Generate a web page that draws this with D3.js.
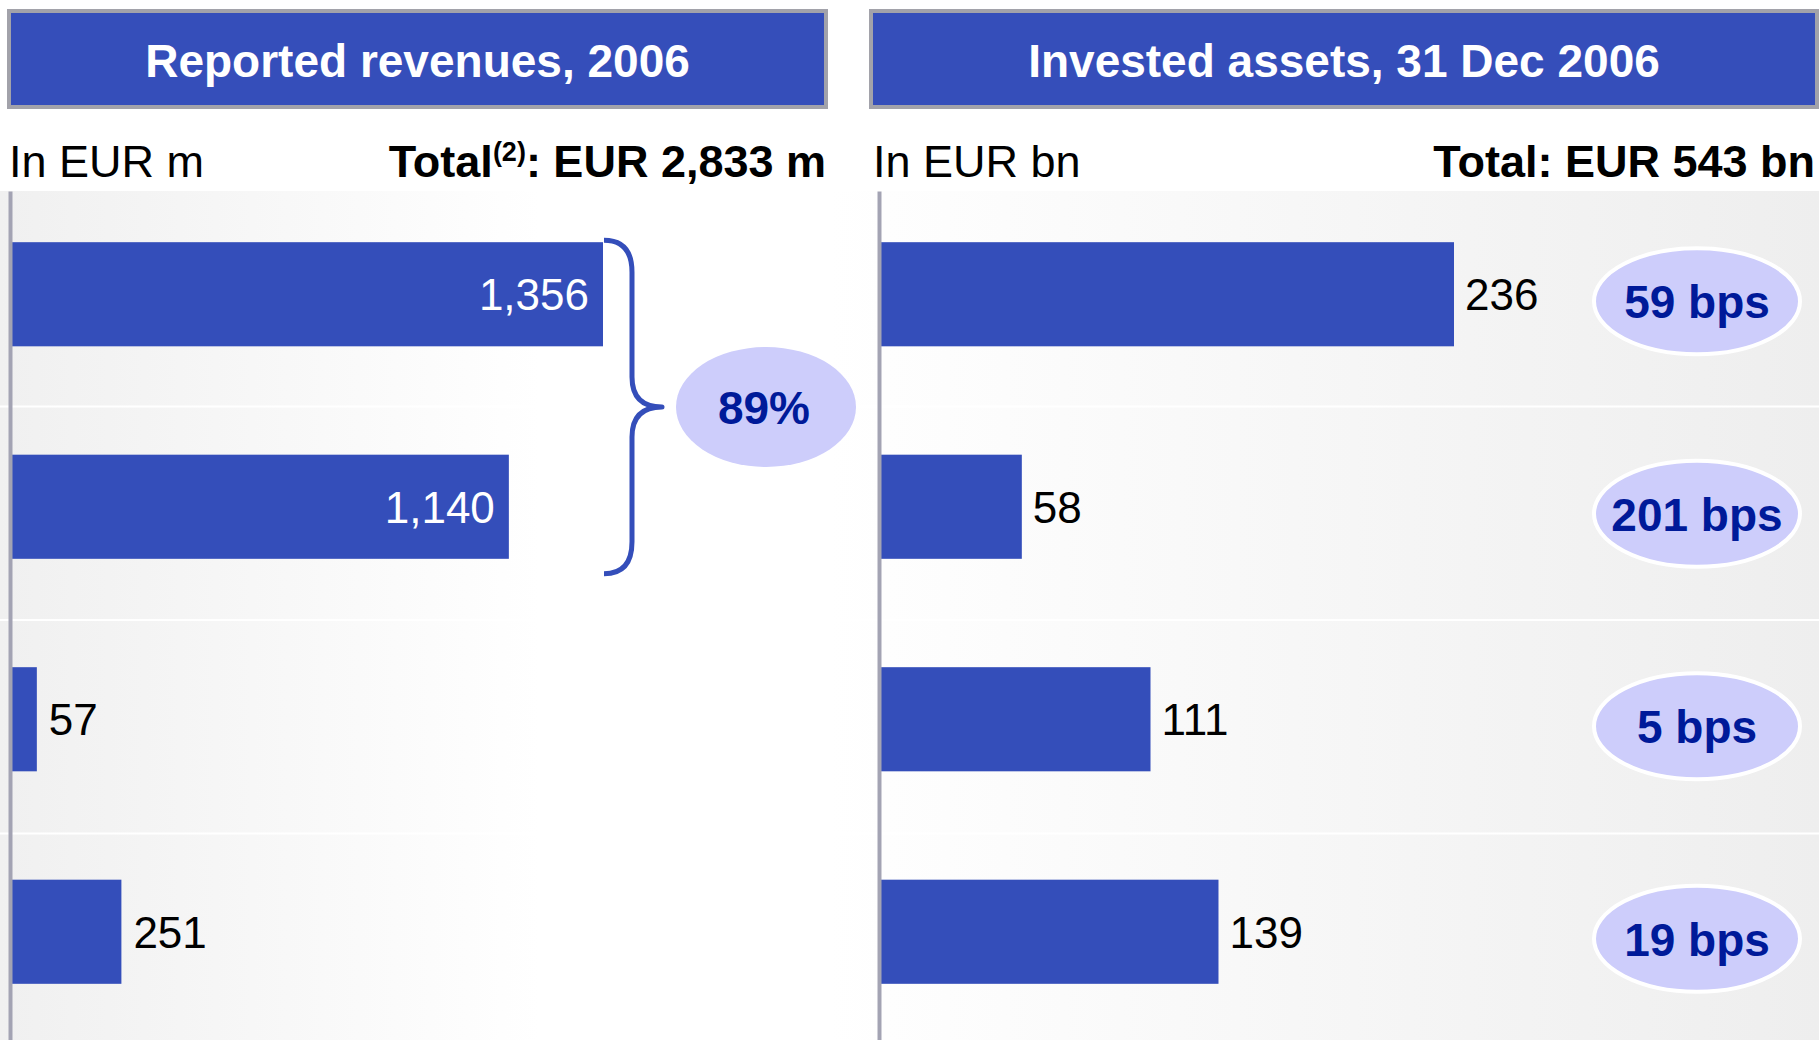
<!DOCTYPE html>
<html>
<head>
<meta charset="utf-8">
<script src="https://cdn.jsdelivr.net/npm/d3@7"></script>
<style>
  body { margin: 0; background: #ffffff; }
  svg { display: block; font-family: "Liberation Sans", Arial, sans-serif; }
</style>
</head>
<body>
<div id="chart"></div>
<script>
// Rows (no category names are printed on the chart)
const rowKeys = ["row1", "row2", "row3", "row4"];

// Left panel: reported revenues 2006, EUR m
const revenueValues = [1356, 1140, 57, 251];
const revenueTitle = "Reported revenues, 2006";
const revenueUnit = "In EUR m";
const revenueTotal = "EUR 2,833 m";
const bracePct = "89%";

// Right panel: invested assets 31 Dec 2006, EUR bn
const assetValues = [236, 58, 111, 139];
const assetMargins = ["59 bps", "201 bps", "5 bps", "19 bps"];
const assetTitle = "Invested assets, 31 Dec 2006";
const assetUnit = "In EUR bn";
const assetTotal = "Total: EUR 543 bn";

const svgWidth = 1819;
const svgHeight = 1040;

const blue = "#344eba";
const navy = "#001a99";
const lilac = "#cdcdfb";
const axisGrey = "#a3a3b3";

const fmt = d3.format(",");

const svg = d3.select("#chart")
              .append("svg")
              .attr("width", svgWidth)
              .attr("height", svgHeight);

// Background gradients
const defs = svg.append("defs");
const gLeft = defs.append("linearGradient").attr("id", "bgLeft");
gLeft.append("stop").attr("offset", "0%").attr("stop-color", "#f0f0f0");
gLeft.append("stop").attr("offset", "65%").attr("stop-color", "#ffffff");
gLeft.append("stop").attr("offset", "100%").attr("stop-color", "#ffffff");
const gRight = defs.append("linearGradient").attr("id", "bgRight");
gRight.append("stop").attr("offset", "0%").attr("stop-color", "#ffffff");
gRight.append("stop").attr("offset", "100%").attr("stop-color", "#eeeeee");

// Shared vertical scales
const yRow = d3.scaleBand().domain(rowKeys).range([193, 1047]);
const yBar = d3.scaleBand().domain(rowKeys).range([188, 1038])
               .paddingInner(0.51).paddingOuter(0.255);
const bw = yBar.bandwidth();
const mid = k => yBar(k) + bw / 2;

// Panel definitions
const panels = [
    {x0: 0, x1: 830, axisX: 10, grad: "bgLeft"},
    {x0: 830, x1: svgWidth, axisX: 879, grad: "bgRight"}
];

panels.forEach(p => {
    svg.append("rect")
       .attr("x", p.x0).attr("y", 191)
       .attr("width", p.x1 - p.x0).attr("height", svgHeight - 191)
       .attr("fill", `url(#${p.grad})`);
    // white separators between rows
    svg.append("g")
       .selectAll("line")
       .data(rowKeys.slice(1))
       .enter()
       .append("line")
       .attr("x1", p.x0).attr("x2", p.x1)
       .attr("y1", d => yRow(d)).attr("y2", d => yRow(d))
       .attr("stroke", "#ffffff")
       .attr("stroke-width", 2);
});

// Headers
function header(x, w, title) {
    svg.append("rect")
       .attr("x", x).attr("y", 11)
       .attr("width", w).attr("height", 96)
       .attr("fill", "#354eba")
       .attr("stroke", "#a2a2aa")
       .attr("stroke-width", 4);
    svg.append("text")
       .attr("x", x + w / 2).attr("y", 77)
       .attr("text-anchor", "middle")
       .attr("fill", "#ffffff")
       .style("font-size", "46px")
       .style("font-weight", "bold")
       .text(title);
}
header(9, 817, revenueTitle);
header(871, 946, assetTitle);

// Sub headers
svg.append("text").attr("x", 9).attr("y", 177)
   .style("font-size", "45px").text(revenueUnit);
const totL = svg.append("text").attr("x", 826).attr("y", 177)
   .attr("text-anchor", "end")
   .style("font-size", "45px").style("font-weight", "bold");
totL.append("tspan").text("Total");
totL.append("tspan").attr("dy", -16).style("font-size", "27px").text("(2)");
totL.append("tspan").attr("dy", 16).text(": " + revenueTotal);

svg.append("text").attr("x", 873).attr("y", 177)
   .style("font-size", "45px").text(assetUnit);
svg.append("text").attr("x", 1815).attr("y", 177)
   .attr("text-anchor", "end")
   .style("font-size", "45px").style("font-weight", "bold")
   .text(assetTotal);

// ---------- Left panel: revenues ----------
const xRev = d3.scaleLinear().domain([0, 1356]).range([12, 603]);

const revG = svg.append("g");
revG.selectAll("rect")
    .data(revenueValues)
    .enter()
    .append("rect")
    .attr("x", xRev(0))
    .attr("y", (d, i) => yBar(rowKeys[i]))
    .attr("width", d => xRev(d) - xRev(0))
    .attr("height", bw)
    .attr("fill", blue);

revG.selectAll("text")
    .data(revenueValues)
    .enter()
    .append("text")
    .attr("x", (d, i) => i < 2 ? xRev(d) - 14 : xRev(d) + 12)
    .attr("y", (d, i) => mid(rowKeys[i]) + 16)
    .attr("text-anchor", (d, i) => i < 2 ? "end" : "start")
    .attr("fill", (d, i) => i < 2 ? "#ffffff" : "#000000")
    .style("font-size", "44px")
    .text(d => fmt(d));

// brace spanning the first two bars
const bx = xRev(revenueValues[0]) + 1;
const bTop = yBar(rowKeys[0]) - 2;
const bBot = yBar(rowKeys[1]) + bw + 15;
const bMid = (bTop + bBot) / 2;
svg.append("path")
   .attr("d", `M${bx},${bTop} C${bx + 20},${bTop} ${bx + 28},${bTop + 12} ${bx + 28},${bTop + 32}
               L${bx + 28},${bMid - 30} C${bx + 28},${bMid - 10} ${bx + 38},${bMid} ${bx + 58},${bMid}
               C${bx + 38},${bMid} ${bx + 28},${bMid + 10} ${bx + 28},${bMid + 30}
               L${bx + 28},${bBot - 32} C${bx + 28},${bBot - 12} ${bx + 20},${bBot} ${bx},${bBot}`)
   .attr("fill", "none")
   .attr("stroke", blue)
   .attr("stroke-width", 5)
   .attr("stroke-linejoin", "round");

svg.append("ellipse")
   .attr("cx", 766).attr("cy", bMid)
   .attr("rx", 90).attr("ry", 60)
   .attr("fill", lilac);
svg.append("text")
   .attr("x", 764).attr("y", bMid + 17)
   .attr("text-anchor", "middle")
   .attr("fill", navy)
   .style("font-size", "46px").style("font-weight", "bold")
   .text(bracePct);

// ---------- Right panel: invested assets ----------
const xAsset = d3.scaleLinear().domain([0, 236]).range([881, 1454]);

const assetG = svg.append("g");
assetG.selectAll("rect")
      .data(assetValues)
      .enter()
      .append("rect")
      .attr("x", xAsset(0))
      .attr("y", (d, i) => yBar(rowKeys[i]))
      .attr("width", d => xAsset(d) - xAsset(0))
      .attr("height", bw)
      .attr("fill", blue);

assetG.selectAll("text")
      .data(assetValues)
      .enter()
      .append("text")
      .attr("x", d => xAsset(d) + 11)
      .attr("y", (d, i) => mid(rowKeys[i]) + 16)
      .style("font-size", "44px")
      .text(d => fmt(d));

// margin bubbles
const bub = svg.append("g")
               .selectAll("g")
               .data(assetMargins)
               .enter()
               .append("g")
               .attr("transform", (d, i) => `translate(1697, ${mid(rowKeys[i]) + 7})`);
bub.append("ellipse")
   .attr("rx", 103).attr("ry", 53)
   .attr("fill", lilac)
   .attr("stroke", "#ffffff")
   .attr("stroke-width", 4);
bub.append("text")
   .attr("y", 17)
   .attr("text-anchor", "middle")
   .attr("fill", navy)
   .style("font-size", "46px").style("font-weight", "bold")
   .text(d => d);

// ---------- axis lines ----------
panels.forEach(p => {
    const ax = svg.append("g")
                  .attr("transform", `translate(${p.axisX}, 0)`)
                  .call(d3.axisLeft(d3.scaleLinear().domain([0, 1]).range([1045, 191]))
                          .ticks(0).tickSize(0).tickFormat(""));
    ax.select(".domain").attr("stroke", axisGrey).attr("stroke-width", 4);
});
</script>
</body>
</html>
